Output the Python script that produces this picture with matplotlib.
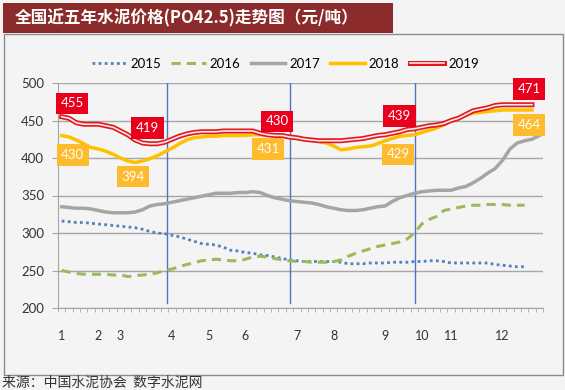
import matplotlib.pyplot as plt
from matplotlib.patches import Rectangle
from matplotlib.legend_handler import HandlerTuple

plt.rcParams['font.family'] = ['Lato', 'Noto Sans CJK SC', 'DejaVu Sans']

# weekly prices, 66 week slots on the x axis
n_slots = 66
month_labels = ['1', '2', '3', '4', '5', '6', '7', '8', '9', '10', '11', '12']
month_slots = [0, 5, 8, 15, 20, 25, 32, 37, 44, 49, 53, 60]
quarter_lines = [14.3, 31.1, 48.1]

p2015 = [316, 315, 314, 314, 313, 312, 311, 310, 309, 308, 307, 305, 302, 300, 299, 297,
         295, 292, 289, 286, 285, 284, 281, 277, 276, 274, 273, 271, 270, 268, 266, 264,
         263, 262, 262, 262, 262, 262, 261, 259, 259, 259, 260, 260, 260, 261, 261, 261,
         262, 262, 263, 263, 262, 260, 260, 260, 260, 260, 260, 258, 257, 256, 255, 255]
p2016 = [250, 248, 246, 245, 245, 245, 245, 244, 244, 242, 243, 244, 245, 247, 250, 252,
         255, 258, 260, 263, 264, 265, 264, 263, 263, 265, 268, 269, 268, 266, 264, 263,
         262, 262, 261, 261, 261, 262, 264, 269, 273, 276, 279, 282, 284, 286, 288, 292,
         300, 312, 318, 322, 330, 332, 334, 336, 337, 337, 338, 338, 338, 337, 337, 337]
p2017 = [335, 334, 333, 333, 332, 330, 328, 327, 327, 327, 328, 331, 336, 338, 339, 341,
         343, 345, 347, 349, 351, 353, 353, 353, 354, 354, 355, 354, 350, 347, 345, 343,
         342, 341, 340, 338, 335, 333, 331, 330, 330, 331, 333, 335, 336, 342, 347, 350,
         353, 355, 356, 357, 357, 357, 360, 362, 367, 373, 380, 386, 397, 412, 420, 423,
         425, 430]
p2018 = [430, 428, 424, 419, 414, 412, 409, 405, 400, 396, 394, 396, 399, 403, 408, 413,
         419, 424, 427, 428, 429, 429, 430, 430, 430, 430, 431, 431, 431, 431, 430, 427,
         426, 425, 424, 422, 420, 416, 411, 412, 414, 415, 416, 419, 423, 426, 429, 430,
         431, 434, 437, 440, 444, 450, 454, 457, 460, 461, 462, 463, 464, 464, 464, 464,
         464]
p2019 = [455, 453, 447, 445, 445, 445, 443, 441, 436, 431, 424, 420, 419, 419, 421, 425,
         429, 432, 434, 435, 435, 435, 436, 436, 436, 436, 436, 433, 431, 430, 430, 428,
         427, 425, 424, 423, 423, 423, 423, 424, 425, 426, 428, 430, 431, 433, 435, 438,
         439, 441, 443, 444, 446, 450, 453, 458, 463, 465, 467, 470, 471, 471, 471, 471,
         471]

# labelled points: (slot, label x, label y)
red_tags = [(0, 1.4, 473), (12, 11.7, 440), (30, 29.3, 449), (48, 46.0, 456), (64, 63.6, 492)]
gold_tags = [(0, 1.5, 404), (10, 9.7, 375), (29, 28.1, 412), (46, 45.8, 405), (64, 63.6, 444)]

bg = '#f4f4f4'
fig = plt.figure(figsize=(5.65, 3.9), dpi=100, facecolor=bg)

# outer frame and title bar
fig.patches.append(Rectangle((4 / 565, 1 - 375 / 390), 559 / 565, 341 / 390,
                             transform=fig.transFigure, fill=False, ec='#8c8c8c', lw=1))
fig.patches.append(Rectangle((3 / 565, 1 - 33 / 390), 390 / 565, 30 / 390,
                             transform=fig.transFigure, fc='#8b2b2b', ec='none'))
fig.text(15 / 565, 1 - 18 / 390, '全国近五年水泥价格(PO42.5)走势图（元/吨）', color='white',
         fontsize=12, fontweight='bold', va='center', ha='left',
         family=['Noto Sans CJK SC', 'DejaVu Sans'])
fig.text(2 / 565, 1 - 383 / 390, '来源：中国水泥协会  数字水泥网', color='#333333',
         fontsize=10, va='center', ha='left', family=['Noto Sans CJK SC', 'DejaVu Sans'])

ax = fig.add_axes([58 / 565, 1 - 308 / 390, 485 / 565, 225 / 390])
ax.set_facecolor(bg)
ax.set_xlim(-0.5, n_slots - 0.5)
ax.set_ylim(200, 500)
ax.set_yticks(range(200, 501, 50))
ax.grid(axis='y', color='#a6a6a6', lw=1)
ax.set_axisbelow(True)
for s in ['top', 'right']:
    ax.spines[s].set_visible(False)
for s in ['left', 'bottom']:
    ax.spines[s].set_color('#a6a6a6')

ax.set_xticks(month_slots)
ax.set_xticklabels(month_labels)
ax.set_xticks([i - 0.5 for i in range(n_slots + 1)], minor=True)
ax.tick_params(axis='x', which='major', length=0, pad=16, labelsize=9, colors='#333333')
ax.tick_params(axis='x', which='minor', length=3, color='#a6a6a6', direction='out')
ax.tick_params(axis='y', length=4, color='#a6a6a6', labelsize=9.5, colors='#333333', pad=6)

for q in quarter_lines:
    ax.plot([q, q], [207, 500], color='#4a76c4', lw=1, zorder=2)

l15, = ax.plot(range(len(p2015)), p2015, color='#4f81bd', lw=2, ls=(0, (1, 1.2)), zorder=3)
l16, = ax.plot(range(len(p2016)), p2016, color='#9bbb59', lw=2.2, ls=(0, (3, 2)), zorder=3)
l17, = ax.plot(range(len(p2017)), p2017, color='#a5a5a5', lw=2.5, zorder=3)
l18, = ax.plot(range(len(p2018)), p2018, color='#ffc000', lw=2.5, zorder=4)
l19a, = ax.plot(range(len(p2019)), p2019, color='#e3161e', lw=3.6, zorder=5)
l19b, = ax.plot(range(len(p2019)), p2019, color='#fbe7e7', lw=1.2, zorder=6)

for i, lx, ly in red_tags:
    ax.text(lx, ly, str(p2019[i]), color='white', fontsize=9.5, ha='center', va='center',
            zorder=7, bbox=dict(boxstyle='square,pad=0.35', fc='#e8001c', ec='none'))
for i, lx, ly in gold_tags:
    ax.text(lx, ly, str(p2018[i]), color='white', fontsize=9.5, ha='center', va='center',
            zorder=7, bbox=dict(boxstyle='square,pad=0.35', fc='#fdbb2d', ec='none'))

fig.legend([l15, l16, l17, l18, (l19a, l19b)], ['2015', '2016', '2017', '2018', '2019'],
           handler_map={tuple: HandlerTuple(ndivide=1)},
           loc='center', bbox_to_anchor=(0.505, 1 - 64 / 390), ncol=5, frameon=False,
           fontsize=9.5, handlelength=2.6, columnspacing=0.8, handletextpad=0.3)

fig.savefig('out.png', dpi=100, facecolor=bg)
